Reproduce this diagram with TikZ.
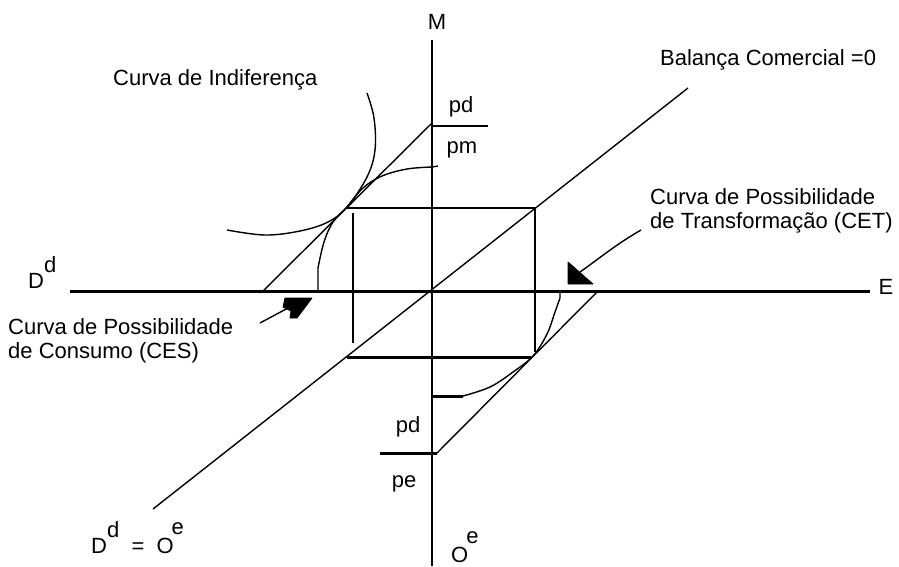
\documentclass[tikz,border=0pt]{standalone}
\usepackage{fontspec}
\setmainfont{Liberation Sans}
\begin{document}
\begin{tikzpicture}[x=1pt,y=-1pt,
  thinline/.style={line width=1.4pt},
  thickline/.style={line width=3pt},
  lbl/.style={font=\fontsize{22}{24}\selectfont, inner sep=0pt},
  arrowhead/.style={fill=black, draw=black, line width=0.8pt, line join=round}
]
\useasboundingbox[fill=white] (0,0) rectangle (899,566);

% ---------- named points ----------
\coordinate (Mtop) at (432,40);
\coordinate (Mbot) at (432,566);
\coordinate (Eleft) at (70,291);
\coordinate (Eright) at (870,291);
\coordinate (Bstart) at (153,509);
\coordinate (Bend) at (688,88);
\coordinate (TL) at (347,208);
\coordinate (TR) at (535,208);
\coordinate (BL) at (347,357);
\coordinate (BR) at (531,357);
\coordinate (LVt) at (353,213);
\coordinate (LVb) at (353,343);
\coordinate (RVb) at (535,352);
% upper tangent (pd) line
\coordinate (UTa) at (263,291);
\coordinate (UTb) at (432,123);
\coordinate (UPDa) at (432,126);
\coordinate (UPDb) at (488,126);
% lower tangent line
\coordinate (LTa) at (598,291);
\coordinate (LTb) at (437,453);
\coordinate (LPDa) at (380,453);
% CET start
\coordinate (CETa) at (432,396);
\coordinate (CETb) at (463,396);

% ---------- axes ----------
\draw[thinline] (Mtop) -- (Mbot);
\draw[thickline] (Eleft) -- (Eright);

% ---------- balance line ----------
\draw[thinline] (Bstart) -- (Bend);

% ---------- rectangle ----------
\draw[thinline] (TL) -- (TR) -- (RVb);
\draw[thinline] (LVt) -- (LVb);
\draw[thickline] (BL) -- (BR);

% ---------- upper-left quadrant ----------
\draw[thinline] (UTa) -- (UTb);
\draw[thinline] (UPDa) -- (UPDb);
% indifference curve
\draw[thinline] plot[smooth, tension=0.6] coordinates
  {(367,93) (374,118) (375,150) (367,177) (347,207) (328,222) (300,231) (265,235) (227,230)};
% CES curve
\draw[thinline] (318,291) -- (318,268) plot[smooth, tension=0.6] coordinates
  {(318,268) (324,242) (333,222) (347,207) (363,188) (382,176) (407,169) (432,167)} -- (438,166);

% ---------- lower-right quadrant ----------
\draw[thinline] (LTa) -- (LTb);
\draw[thickline] (LPDa) -- (LTb);
\draw[thickline] (CETa) -- (CETb);
\draw[thinline] plot[smooth, tension=0.6] coordinates
  {(463,396) (490,387) (513,372) (533,356) (547,334) (555,312) (560,298)} -- (560,291);

% ---------- arrows ----------
\coordinate (LAs) at (260,323);
\coordinate (LAh) at (288,308);
\draw[thinline] (LAs) -- (LAh);
\fill[arrowhead] (285,298) -- (312,298) -- (297,318) -- (290,318) -- (291,311) -- (283,307) -- cycle;
\coordinate (RAs) at (641,230);
\coordinate (RAh) at (580,272);
\draw[thinline] (RAs) .. controls (615,245) and (600,258) .. (RAh);
\fill[arrowhead] (568,262) -- (593,284) -- (568,284) -- cycle;

% ---------- labels ----------
\node[lbl] (M) at (437,22) {M};
\node[lbl] (E) at (886,287) {E};
\node[lbl, anchor=base west] (Dd) at (28,288) {D\raisebox{0.7em}{d}};
\node[lbl, anchor=base west] (IC) at (113,85) {Curva de Indiferença};
\node[lbl, anchor=base west] (BC) at (660,65) {Balança Comercial =0};
\node[lbl] (pd1) at (461,107) {pd};
\node[lbl] (pm) at (462,150) {pm};
\node[lbl, anchor=base west] (CET1) at (650,204) {Curva de Possibilidade};
\node[lbl, anchor=base west] (CET2) at (650,228) {de Transformação (CET)};
\node[lbl, anchor=base west] (CES1) at (8,334) {Curva de Possibilidade};
\node[lbl, anchor=base west] (CES2) at (8,358) {de Consumo (CES)};
\node[lbl] (pd2) at (408,427) {pd};
\node[lbl] (pe) at (404,484) {pe};
\node[lbl, anchor=base west] (Oe) at (451,562) {O\kern-2pt\raisebox{0.85em}{e}};
\node[lbl, anchor=base west] (DdOe) at (91,553) {D\raisebox{0.7em}{d}\ \ =\ \ O\kern-2pt\raisebox{0.85em}{e}};
\end{tikzpicture}
\end{document}
